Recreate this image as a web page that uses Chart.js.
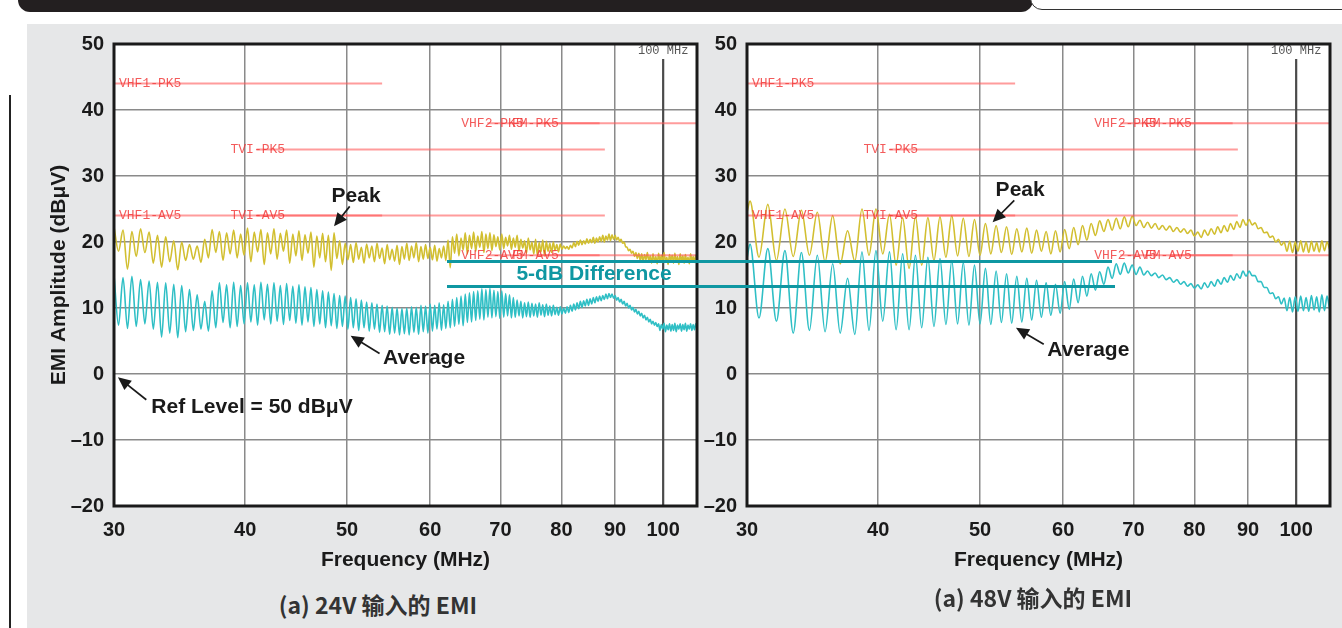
<!DOCTYPE html>
<html>
<head>
<meta charset="utf-8">
<script src="https://cdn.jsdelivr.net/npm/chart.js@4.4.1/dist/chart.umd.min.js"></script>
<style>
    html, body { margin: 0; padding: 0; background: #fff; }
    body { width: 1342px; height: 628px; position: relative; overflow: hidden; font-family: "Liberation Sans", Arial, sans-serif; }
    #banner { position: absolute; left: 18px; top: 0; width: 1015px; height: 12px; background: #231f20; border-bottom-left-radius: 14px; border-bottom-right-radius: 14px; }
    #tab { position: absolute; left: 1030px; top: -10px; width: 330px; height: 18px; border: 1.5px solid #333; border-bottom-left-radius: 12px; background: #fff; }
    #panel { position: absolute; left: 27px; top: 24px; width: 1315px; height: 604px; background: #e6e7e8; }
    #edge { position: absolute; left: 9px; top: 95px; width: 1.5px; height: 533px; background: #222; }
    canvas { position: absolute; }
    #cL { left: 27px; top: 22px; }
    #cR { left: 700px; top: 22px; }
    .diff { position: absolute; height: 3px; background: #0f97a2; }
    #diffText { position: absolute; left: 594px; top: 273px; transform: translate(-50%, -50%); color: #0f97a2; font: bold 21px "Liberation Sans"; white-space: nowrap; }
    .sub { position: absolute; transform: translate(-50%, -50%); font: bold 23px "Noto Sans CJK SC"; color: #333; white-space: nowrap; }
</style>
</head>
<body>
<div id="banner"></div>
<div id="tab"></div>
<div id="panel"></div>
<div id="edge"></div>
<canvas id="cL" width="675" height="560"></canvas>
<canvas id="cR" width="642" height="560"></canvas>
<div class="diff" style="left:447px;top:259.5px;width:665px"></div>
<div class="diff" style="left:447px;top:284.5px;width:668px"></div>
<div id="diffText">5-dB Difference</div>
<div class="sub" style="left:378px;top:604px">(a) 24V 输入的 EMI</div>
<div class="sub" style="left:1033px;top:597px">(a) 48V 输入的 EMI</div>

<script>
// axis ticks
const xTicks = [30, 40, 50, 60, 70, 80, 90, 100];
const yTicks = [-20, -10, 0, 10, 20, 30, 40, 50];

// CISPR 25 class 5 limit lines (dBuV offset by ref level)
const limitNames = ["VHF1-PK5", "TVI-PK5", "VHF2-PK5", "FM-PK5", "VHF1-AV5", "TVI-AV5", "VHF2-AV5", "FM-AV5"];
const limitStart = [30, 41, 68, 76, 30, 41, 68, 76];
const limitStop = [54, 88, 87, 108, 54, 88, 87, 108];
const limitLevel = [44, 34, 38, 38, 24, 24, 18, 18];

// 24V input: sweep frequencies (MHz), peak and average traces (dB)
const freq24 = [
    30,30.3,30.6,30.9,31.2,31.5,31.8,32.1,32.4,32.7,
    33,33.3,33.6,33.9,34.2,34.5,34.8,35.1,35.4,35.7,
    36,36.3,36.6,36.9,37.2,37.5,37.8,38.1,38.4,38.7,
    39,39.3,39.6,39.9,40.2,40.5,40.8,41.1,41.4,41.7,
    42,42.3,42.6,42.9,43.2,43.5,43.8,44.1,44.4,44.7,
    45,45.3,45.6,45.9,46.2,46.5,46.8,47.1,47.4,47.7,
    48,48.3,48.6,48.9,49.2,49.5,49.8,50.1,50.4,50.7,
    51,51.3,51.6,51.9,52.2,52.5,52.8,53.1,53.4,53.7,
    54,54.3,54.6,54.9,55.2,55.5,55.8,56.1,56.4,56.7,
    57,57.3,57.6,57.9,58.2,58.5,58.8,59.1,59.4,59.7,
    60,60.3,60.6,60.9,61.2,61.5,61.8,62.1,62.4,62.7,
    63,63.3,63.6,63.9,64.2,64.5,64.8,65.1,65.4,65.7,
    66,66.3,66.6,66.9,67.2,67.5,67.8,68.1,68.4,68.7,
    69,69.3,69.6,69.9,70.2,70.5,70.8,71.1,71.4,71.7,
    72,72.3,72.6,72.9,73.2,73.5,73.8,74.1,74.4,74.7,
    75,75.3,75.6,75.9,76.2,76.5,76.8,77.1,77.4,77.7,
    78,78.3,78.6,78.9,79.2,79.5,79.8,80.1,80.4,80.7,
    81,81.3,81.6,81.9,82.2,82.5,82.8,83.1,83.4,83.7,
    84,84.3,84.6,84.9,85.2,85.5,85.8,86.1,86.4,86.7,
    87,87.3,87.6,87.9,88.2,88.5,88.8,89.1,89.4,89.7,
    90,90.3,90.6,90.9,91.2,91.5,91.8,92.1,92.4,92.7,
    93,93.3,93.6,93.9,94.2,94.5,94.8,95.1,95.4,95.7,
    96,96.3,96.6,96.9,97.2,97.5,97.8,98.1,98.4,98.7,
    99,99.3,99.6,99.9,100.2,100.5,100.8,101.1,101.4,101.7,
    102,102.3,102.6,102.9,103.2,103.5,103.8,104.1,104.4,104.7,
    105,105.3,105.6,105.9,106.2,106.5,106.8,107.1,107.4,107.7
];
const peak24 = [
    22.3,18.6,21.8,15.9,21.6,17.8,22.0,18.4,21.5,16.8,
    21.0,16.2,20.8,17.0,20.2,15.8,20.0,17.2,19.6,17.4,
    19.4,16.9,20.4,17.6,21.9,18.4,21.6,17.2,21.4,18.2,
    21.8,17.6,21.2,18.0,22.1,17.0,21.5,18.5,21.9,16.6,
    21.4,18.2,22.0,17.4,21.3,18.6,21.8,16.8,21.2,17.9,
    21.7,17.2,21.1,18.3,21.5,16.2,20.9,17.6,21.3,17.0,
    21.0,15.7,21.4,17.5,20.2,16.6,19.8,17.3,19.6,16.9,
    19.9,17.4,19.2,16.8,19.7,17.6,19.4,17.0,19.8,17.5,
    19.1,16.7,19.6,17.3,18.9,17.1,19.5,16.6,19.3,17.4,
    19.8,17.2,19.4,17.6,19.9,17.0,19.3,17.4,19.6,17.5,
    19.2,17.3,19.5,17.1,19.0,17.6,19.4,17.2,20.3,16.1,
    20.8,18.3,21.2,17.9,20.6,18.8,21.4,18.2,21.0,19.0,
    21.5,18.6,20.9,19.2,21.6,18.4,21.2,19.0,21.4,18.7,
    21.1,19.3,20.8,18.8,21.2,19.0,20.7,19.4,21.0,18.9,
    20.6,19.2,21.0,18.6,20.4,19.1,20.2,18.3,20.6,18.8,
    20.0,18.2,20.4,18.0,19.9,18.5,20.3,17.9,20.1,18.6,
    19.8,18.4,20.0,18.7,19.6,18.5,19.7,18.9,19.4,19.0,
    19.3,18.9,19.5,19.1,19.9,19.3,20.1,19.5,20.3,19.6,
    20.2,19.7,20.5,19.8,20.4,19.9,20.7,19.8,20.6,20.0,
    20.8,20.1,21.0,20.0,20.9,20.3,21.2,20.2,21.1,20.4,
    21.0,20.3,20.7,20.1,20.4,19.8,20.0,19.3,19.2,18.7,
    18.9,18.3,18.6,17.8,18.4,17.5,18.3,17.2,18.2,17.0,
    18.1,17.3,18.4,17.1,17.9,16.8,18.2,17.0,17.8,16.7,
    18.3,17.0,18.0,16.9,18.4,17.1,17.7,16.6,18.1,17.2,
    18.0,16.8,18.3,17.0,17.8,16.6,18.2,17.1,17.9,16.8,
    18.1,17.0,17.7,16.7,18.2,17.1,17.8,16.9,18.0,17.2
];
const avg24 = [
    15.0,7.4,14.6,6.9,14.8,7.2,14.3,7.6,14.1,6.8,
    13.9,5.6,13.8,6.2,13.6,5.5,13.4,6.4,12.8,6.6,
    12.0,6.8,11.0,6.5,12.6,7.0,13.8,7.8,13.5,7.0,
    13.9,7.2,13.4,7.6,13.8,7.9,13.5,7.4,13.9,8.2,
    13.6,7.6,13.8,8.0,13.4,7.5,13.7,8.1,13.3,7.7,
    13.5,7.4,13.2,7.9,13.1,7.2,12.8,7.6,12.6,7.0,
    12.4,7.3,12.2,6.9,11.9,7.2,11.8,6.8,11.6,7.0,
    11.4,6.6,11.2,7.0,10.9,6.5,10.8,6.8,10.6,6.3,
    10.4,6.4,10.3,6.0,10.1,6.2,10.0,5.9,9.9,6.1,
    10.0,5.9,10.2,6.3,10.1,6.0,10.4,6.4,10.3,6.2,
    10.6,6.5,10.4,6.8,10.8,6.6,10.5,6.9,11.0,7.0,
    11.3,7.2,11.6,7.5,11.8,7.3,12.1,7.8,12.3,7.9,
    12.5,8.1,12.6,8.3,12.9,8.2,12.8,8.6,13.0,8.5,
    12.7,8.7,12.5,8.4,12.6,8.6,12.2,8.8,12.0,8.5,
    11.6,8.6,11.2,8.8,11.0,8.5,10.8,8.7,10.9,8.6,
    10.7,8.8,10.6,8.6,10.8,8.9,10.5,8.7,10.6,8.9,
    10.3,8.8,10.4,9.0,10.1,8.9,10.2,9.1,10.0,9.2,
    10.2,9.3,10.4,9.5,10.6,9.7,10.8,9.9,11.0,10.1,
    11.1,10.3,11.3,10.4,11.4,10.6,11.6,10.8,11.7,11.0,
    11.8,11.1,11.9,11.3,12.1,11.4,12.2,11.6,12.1,11.5,
    11.9,11.2,11.6,10.9,11.3,10.6,11.0,10.3,10.7,10.0,
    10.4,9.7,10.1,9.4,9.8,9.1,9.5,8.8,9.2,8.5,
    8.9,8.2,8.6,7.9,8.3,7.6,8.0,7.4,7.8,7.2,
    7.6,6.6,7.5,6.8,7.7,6.4,7.4,6.7,7.6,6.5,
    7.5,6.6,7.7,6.4,7.4,6.8,7.6,6.5,7.5,6.7,
    7.7,6.5,7.4,6.8,7.6,6.6,7.5,6.7,7.6,6.9
];

// 48V input
const freq48 = [
    30,
    30.2,30.8,31.4,32,32.6,33.2,33.8,34.4,35,35.6,
    36.2,36.8,37.4,38,38.6,39.2,39.8,40.4,41,41.6,
    42.2,42.8,43.4,44,44.6,45.2,45.8,46.4,47,47.6,
    48.2,48.8,49.4,50,50.6,51.2,51.8,52.4,53,53.6,
    54.2,54.8,55.4,56,56.6,57.2,57.8,58.4,59,59.6,
    60.2,60.8,61.4,62,62.6,63.2,63.8,64.4,65,65.6,
    66.2,66.8,67.4,68,68.6,69.2,69.8,70.4,71,71.6,
    72.2,72.8,73.4,74,74.6,75.2,75.8,76.4,77,77.6,
    78.2,78.8,79.4,80,80.6,81.2,81.8,82.4,83,83.6,
    84.2,84.8,85.4,86,86.6,87.2,87.8,88.4,89,89.6,
    90.2,90.8,91.4,92,92.6,93.2,93.8,94.4,95,95.6,
    96.2,96.8,97.4,98,98.6,99.2,99.8,100.4,101,101.6,
    102.2,102.8,103.4,104,104.6,105.2,105.8,106.4,107,107.6
];
const peak48 = [
    24.5,
    26.2,17.7,25.7,17.2,25.0,17.8,24.8,18.0,24.5,17.0,
    24.0,16.7,21.7,17.1,25.0,18.0,25.0,18.2,24.2,16.5,
    23.7,16.0,23.8,16.5,23.7,17.2,23.8,17.7,24.0,17.9,
    23.6,17.8,23.4,18.0,22.8,18.2,22.5,18.4,22.3,18.1,
    22.0,18.5,22.1,18.3,21.8,18.6,21.6,18.2,21.7,18.5,
    21.9,19.0,22.2,19.6,22.5,20.3,22.8,21.0,23.2,21.6,
    23.4,21.8,23.6,22.0,23.8,22.3,23.9,22.5,23.3,22.2,
    23.0,22.1,22.8,21.9,22.5,21.8,22.4,21.6,22.2,21.5,
    22.0,21.3,21.8,20.9,21.5,20.7,21.8,21.0,22.0,21.2,
    22.3,21.4,22.5,21.6,22.8,21.9,23.1,22.2,23.4,22.5,
    23.4,22.6,22.9,22.0,22.2,21.4,21.5,20.7,20.9,20.0,
    20.4,19.5,20.0,18.6,20.1,18.4,20.0,18.6,20.2,18.5,
    20.0,18.4,20.1,18.6,19.9,18.5,20.2,18.7,20.0,18.9
];
const avg48 = [
    17.5,
    19.7,8.5,19.0,8.0,18.7,6.2,18.4,6.6,18.0,6.4,
    16.7,6.2,14.5,6.0,18.5,6.6,18.7,8.0,18.5,6.7,
    18.2,6.7,18.0,7.0,17.7,7.2,17.5,7.5,17.2,7.6,
    16.9,7.4,16.5,7.6,16.0,7.5,15.6,7.8,15.2,7.7,
    14.8,7.9,14.5,8.2,14.2,8.6,13.8,8.9,13.6,9.2,
    14.0,9.8,14.4,10.8,14.8,11.8,15.2,12.7,15.5,13.6,
    16.2,14.5,16.7,15.1,16.8,15.3,16.5,15.1,16.2,15.0,
    15.6,14.9,15.3,14.6,15.0,14.3,14.6,13.9,14.3,13.6,
    14.0,13.3,13.7,13.0,13.5,12.9,13.8,13.1,14.0,13.3,
    14.3,13.6,14.6,13.9,14.9,14.2,15.2,14.5,15.6,14.8,
    15.6,14.9,14.9,14.0,14.0,13.1,13.1,12.2,12.3,11.4,
    11.7,10.6,11.5,9.6,11.6,9.4,11.7,9.5,11.8,9.6,
    11.6,9.5,11.9,9.7,11.7,9.4,12.0,9.6,11.8,9.8
];

const LABEL_FONT = 'bold 21px "Liberation Sans", Arial, sans-serif';
const AXIS_FONT = { family: '"Liberation Sans", Arial', size: 20, weight: "bold" };
const TITLE_FONT = { family: '"Liberation Sans", Arial', size: 21, weight: "bold" };

// annotations: text centre and arrow tail -> tip, in data coordinates
const notes24 = [
    { text: "Peak", tx: 51.0, ty: 26.9, x1: 50.3, y1: 25.4, x2: 48.6, y2: 22.4 },
    { text: "Average", tx: 59.2, ty: 2.4, x1: 53.7, y1: 3.1, x2: 50.4, y2: 5.8 },
    { text: "Ref Level = 50 dBμV", tx: 40.6, ty: -5.0, x1: 32.2, y1: -3.9, x2: 30.26, y2: -0.5 }
];
const notes48 = [
    { text: "Peak", tx: 54.6, ty: 27.9, x1: 53.9, y1: 26.3, x2: 51.4, y2: 23.0 },
    { text: "Average", tx: 63.4, ty: 3.6, x1: 57.5, y1: 4.5, x2: 54.1, y2: 7.0 }
];

function drawArrow(ctx, x1, y1, x2, y2) {
    const a = Math.atan2(y2 - y1, x2 - x1);
    const h = 13, w = 6;
    ctx.beginPath();
    ctx.moveTo(x1, y1);
    ctx.lineTo(x2 - Math.cos(a) * h * 0.7, y2 - Math.sin(a) * h * 0.7);
    ctx.stroke();
    ctx.beginPath();
    ctx.moveTo(x2, y2);
    ctx.lineTo(x2 - h * Math.cos(a) + w * Math.sin(a), y2 - h * Math.sin(a) - w * Math.cos(a));
    ctx.lineTo(x2 - h * Math.cos(a) - w * Math.sin(a), y2 - h * Math.sin(a) + w * Math.cos(a));
    ctx.closePath();
    ctx.fill();
}

// plot background, 100 MHz marker, limit labels, frame and notes
const emiPlugin = {
    id: "emi",
    beforeDraw(chart) {
        const { ctx, chartArea: a } = chart;
        ctx.save();
        ctx.fillStyle = "#fff";
        ctx.fillRect(a.left, a.top, a.width, a.height);
        ctx.restore();
    },
    beforeDatasetsDraw(chart) {
        const { ctx, chartArea: a, scales: { x } } = chart;
        const px = x.getPixelForValue(100);
        ctx.save();
        ctx.beginPath();
        ctx.rect(a.left, a.top, a.width, a.height);
        ctx.clip();
        ctx.strokeStyle = "#4a4a4a";
        ctx.lineWidth = 2.2;
        ctx.beginPath();
        ctx.moveTo(px, a.top + 15);
        ctx.lineTo(px, a.bottom);
        ctx.stroke();
        ctx.fillStyle = "#555";
        ctx.font = '12px "Liberation Mono", monospace';
        ctx.textAlign = "center";
        ctx.textBaseline = "middle";
        ctx.fillText("100 MHz", px, a.top + 7);
        ctx.restore();
    },
    afterDatasetsDraw(chart) {
        const { ctx, chartArea: a, scales: { x, y } } = chart;
        ctx.save();
        ctx.font = '13px "Liberation Mono", monospace';
        ctx.fillStyle = "rgba(240, 50, 50, 0.8)";
        ctx.textAlign = "left";
        ctx.textBaseline = "middle";
        limitNames.forEach((name, i) => {
            const lx = Math.max(a.left + 5, x.getPixelForValue(limitStart[i]) - 26);
            ctx.fillText(name, lx, y.getPixelForValue(limitLevel[i]));
        });
        ctx.restore();
    },
    afterDraw(chart, args, opts) {
        const { ctx, chartArea: a, scales: { x, y } } = chart;
        ctx.save();
        ctx.strokeStyle = "#1a1a1a";
        ctx.lineWidth = 3;
        ctx.strokeRect(a.left, a.top, a.width, a.height);

        ctx.fillStyle = "#1a1a1a";
        ctx.strokeStyle = "#1a1a1a";
        ctx.lineWidth = 1.7;
        ctx.font = LABEL_FONT;
        ctx.textAlign = "center";
        ctx.textBaseline = "middle";
        (opts.notes || []).forEach(n => {
            ctx.fillText(n.text, x.getPixelForValue(n.tx), y.getPixelForValue(n.ty));
            drawArrow(ctx, x.getPixelForValue(n.x1), y.getPixelForValue(n.y1),
                x.getPixelForValue(n.x2), y.getPixelForValue(n.y2));
        });
        ctx.restore();
    }
};

function makeChart(id, freqs, peak, avg, notes, opts) {
    const limitSets = limitNames.map((name, i) => ({
        label: name,
        data: [{ x: limitStart[i], y: limitLevel[i] }, { x: limitStop[i], y: limitLevel[i] }],
        borderColor: "rgba(255, 90, 90, 0.6)",
        borderWidth: 2,
        pointRadius: 0,
        order: 0
    }));

    return new Chart(document.getElementById(id), {
        type: "line",
        data: {
            datasets: [
                {
                    label: "Peak",
                    data: freqs.map((f, i) => ({ x: f, y: peak[i] })),
                    borderColor: "#d2bf30",
                    borderWidth: 1.6,
                    pointRadius: 0,
                    cubicInterpolationMode: "monotone",
                    order: 2
                },
                {
                    label: "Average",
                    data: freqs.map((f, i) => ({ x: f, y: avg[i] })),
                    borderColor: "#2fbfc5",
                    borderWidth: 1.6,
                    pointRadius: 0,
                    cubicInterpolationMode: "monotone",
                    order: 1
                },
                ...limitSets
            ]
        },
        options: {
            responsive: false,
            animation: false,
            devicePixelRatio: 1,
            clip: 0,
            layout: { padding: { left: 0, top: 18, right: opts.padRight, bottom: 0 } },
            plugins: {
                legend: { display: false },
                tooltip: { enabled: false },
                emi: { notes: notes }
            },
            scales: {
                x: {
                    type: "logarithmic",
                    min: 30,
                    max: 107.7,
                    afterBuildTicks: s => { s.ticks = xTicks.map(v => ({ value: v })); },
                    afterFit: s => { s.height = 76; },
                    border: { display: false },
                    grid: {
                        drawTicks: false,
                        lineWidth: 1.5,
                        color: c => (c.tick && c.tick.value === 100) ? "rgba(0,0,0,0)" : "#8a8a8a"
                    },
                    ticks: {
                        autoSkip: false,
                        maxRotation: 0,
                        padding: 12,
                        color: "#1a1a1a",
                        font: AXIS_FONT,
                        callback: v => String(v)
                    },
                    title: {
                        display: true,
                        text: "Frequency (MHz)",
                        color: "#1a1a1a",
                        font: TITLE_FONT,
                        padding: { top: 0, bottom: 9 }
                    }
                },
                y: {
                    min: -20,
                    max: 50,
                    afterBuildTicks: s => { s.ticks = yTicks.map(v => ({ value: v })); },
                    afterFit: s => { s.width = opts.yWidth; },
                    border: { display: false },
                    grid: { drawTicks: false, lineWidth: 1.5, color: "#8a8a8a" },
                    ticks: {
                        padding: 10,
                        color: "#1a1a1a",
                        font: AXIS_FONT,
                        callback: v => v < 0 ? "\u2013" + Math.abs(v) : String(v)
                    },
                    title: {
                        display: opts.yTitle,
                        text: "EMI Amplitude (dBμV)",
                        color: "#1a1a1a",
                        font: TITLE_FONT,
                        padding: { top: 20, bottom: 0 }
                    }
                }
            }
        },
        plugins: [emiPlugin]
    });
}

makeChart("cL", freq24, peak24, avg24, notes24, { padRight: 5, yWidth: 87, yTitle: true });
makeChart("cR", freq48, peak48, avg48, notes48, { padRight: 12, yWidth: 47, yTitle: false });
</script>
</body>
</html>
